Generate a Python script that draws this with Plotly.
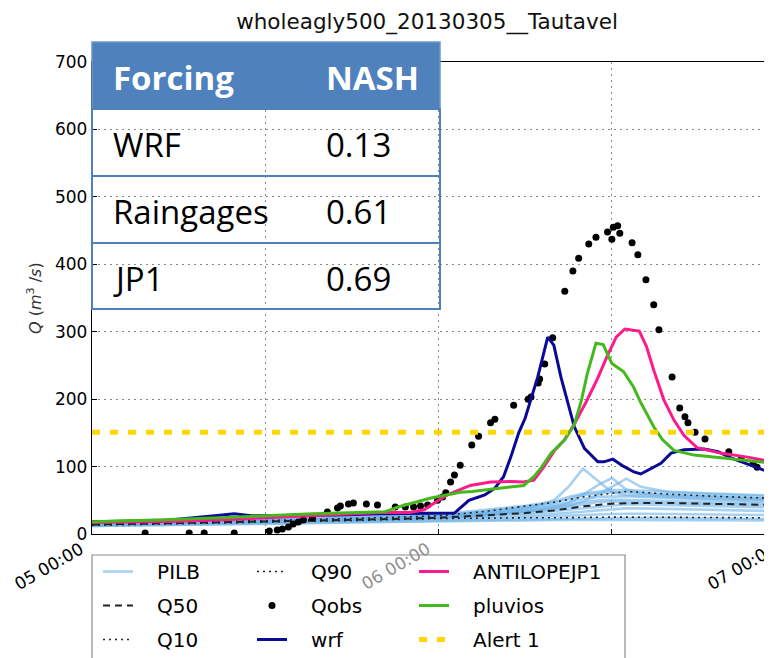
import plotly.graph_objects as go
import pandas as pd

TITLE = "wholeagly500_20130305__Tautavel"
BASE = pd.Timestamp("2013-03-05 00:00")

# ---------------- data (hours since 05 00:00, discharge m3/s) ----------------
qobs_h = [3.68, 6.73, 7.77, 9.85, 12.28, 12.83, 13.18, 13.6, 13.94, 14.29, 14.64, 15.26,
          16.3, 17.0, 17.2, 17.76, 18.1, 19.0, 19.77, 21.0, 21.7, 22.27, 22.75, 23.24,
          23.93, 24.28, 24.5, 24.83, 25.1, 25.5, 26.3, 26.77, 27.6, 27.9, 29.2, 30.2,
          30.4, 30.9, 31.0, 31.35, 31.9, 32.74, 33.3, 33.7, 34.4, 34.9, 35.7, 36.0,
          36.1, 36.4, 36.55, 37.4, 37.8, 38.36, 38.9, 39.26, 40.17, 40.7, 41.06, 41.27,
          41.76, 42.45, 44.1, 44.95, 45.78, 46.06, 47.03]
qobs_v = [1.5, 1.5, 1.5, 1.5, 4.4, 5.9, 7.4, 10.4, 14.8, 17.8, 20.8, 23.7,
          32.6, 38.6, 41.5, 44.5, 46, 44.5, 43, 40, 40, 40, 41.5, 43,
          50, 55, 61, 77, 87.5, 102, 132, 145, 165, 170, 191, 200,
          203, 224, 230, 252, 291, 360, 390, 409, 430, 440, 448, 437,
          455, 457, 446, 432, 414, 377, 340, 303, 233, 187, 174, 165,
          151, 141, 122, 111, 104, 99, 92]

wrf_h = [0, 5, 8.5, 9.85, 11, 14, 17, 20, 24, 25.1, 26.1, 27.2, 27.9, 28.5, 29, 29.55,
         30.0, 30.87, 31.56, 31.98, 32.47, 32.95, 33.4, 34.1, 35.03, 35.45, 36.07, 36.76,
         37.53, 38.0, 39.4, 40.1, 41.0, 42.4, 43.35, 44.25, 45.6, 47.1]
wrf_v = [18, 20, 27, 30, 27, 27, 28, 30, 31, 31, 50, 58, 68, 85, 114, 150,
         172, 233, 292, 280, 233, 194, 159, 127, 107, 107, 111, 101,
         92, 89, 105, 120, 125, 126, 122, 113, 102, 90]

jp1_h = [0, 6, 10, 14, 18, 20, 22, 23, 24.0, 24.6, 26.2, 27.6, 29.0, 29.9, 30.6, 31.3,
         32.0, 32.7, 33.4, 34.2, 35.0, 35.7, 36.3, 36.9, 37.9, 38.4, 38.9, 39.6, 40.3,
         41.0, 41.9, 43.5, 45.4, 47.1]
jp1_v = [17, 19, 22, 26, 30, 32, 32, 36, 50, 58, 72, 77, 78, 77, 80, 100,
         123, 139, 163, 195, 230, 265, 292, 304, 301, 278, 243, 199, 169,
         146, 128, 120, 114, 107]

pluv_h = [0, 5, 9.8, 15.3, 20.3, 21.2, 23.4, 25.5, 26.3, 28.1, 29.9, 30.6, 31.1, 31.8,
          32.7, 33.4, 33.9, 34.3, 34.9, 35.4, 36.0, 36.8, 37.5, 38.0, 38.9, 39.5, 40.3,
          41.7, 44.0, 47.1]
pluv_v = [18, 21, 25, 30, 33, 40, 53, 62, 63, 68, 72, 85, 98, 120,
          139, 162, 199, 238, 283, 281, 253, 241, 218, 195, 159, 140, 124,
          117, 112, 105]

q_h = [0, 6, 12, 18, 24, 27, 30, 32, 34, 36, 37, 38, 40, 43, 47.1]
q10_v = [13, 15, 18, 20, 23, 24, 24, 24, 25, 25, 25, 25, 25, 24, 24]
q50_v = [14, 16, 18, 21, 24, 27, 31, 35, 41, 45, 46, 46, 46, 45, 43]
q90_v = [15, 17, 20, 23, 27, 33, 41, 47, 55, 60, 63, 62, 59, 56, 53]

pilb_h = [0, 6, 12, 18, 24, 27, 30, 32, 33, 34, 35, 36, 37, 38, 40, 43, 47.1]
pilb_members = [
    [12, 13, 15, 17, 19, 20, 21, 21, 21, 21, 21, 21, 21, 21, 21, 21, 20],
    [12, 14, 16, 18, 20, 21, 22, 23, 23, 23, 23, 24, 24, 24, 24, 23, 22],
    [13, 15, 17, 19, 22, 23, 25, 26, 27, 28, 29, 30, 30, 30, 30, 29, 28],
    [13, 15, 18, 20, 23, 25, 28, 30, 31, 33, 35, 37, 38, 38, 37, 36, 34],
    [14, 16, 19, 21, 24, 27, 31, 34, 36, 38, 41, 43, 44, 44, 43, 41, 39],
    [14, 16, 19, 22, 25, 28, 33, 37, 40, 44, 47, 48, 48, 47, 46, 44, 42],
    [14, 17, 20, 23, 26, 30, 36, 40, 43, 47, 50, 51, 51, 50, 49, 47, 45],
    [15, 17, 20, 23, 27, 32, 38, 43, 47, 52, 55, 56, 56, 55, 53, 51, 48],
    [15, 18, 21, 24, 28, 33, 40, 46, 52, 58, 60, 62, 62, 60, 58, 55, 52],
    [15, 18, 21, 25, 29, 35, 42, 48, 55, 60, 63, 65, 65, 64, 62, 60, 57],
    [14, 16, 19, 22, 26, 30, 37, 50, 70, 97, 80, 62, 58, 57, 55, 52, 50],
    [14, 16, 19, 22, 26, 29, 34, 40, 46, 58, 72, 83, 66, 60, 57, 55, 52],
    [13, 16, 18, 21, 25, 28, 33, 38, 42, 48, 58, 70, 82, 70, 62, 59, 56],
]

alert1 = 151
x_end_h = 47.09

forcings = ["WRF", "Raingages", "JP1"]
nash = ["0.13", "0.61", "0.69"]
table_header = ["Forcing", "NASH"]

tick_hours = [0, 12, 24, 36]
label_hours = [0, 24, 48]
label_text = ["05 00:00", "06 00:00", "07 00:00"]
label_color = ["black", "#8f8f8f", "black"]   # middle one sits behind the legend


def T(hours):
    out = []
    for h in hours:
        ts = BASE + pd.Timedelta(seconds=round(h * 3600))
        out.append(ts.strftime("%Y-%m-%d %H:%M:%S"))
    return out


NB = "\u00a0\u00a0\u00a0"
fig = go.Figure()

# PILB ensemble members
for i, m in enumerate(pilb_members):
    fig.add_trace(go.Scatter(x=T(pilb_h), y=m, mode="lines", name=NB + "PILB",
                             line=dict(color="rgba(110,178,232,0.6)", width=2.6),
                             showlegend=(i == 0), legend="legend", legendrank=1,
                             legendgroup="g1", hoverinfo="skip"))

fig.add_trace(go.Scatter(x=T(q_h), y=q50_v, mode="lines", name=NB + "Q50",
                         line=dict(color="#222", width=2, dash="7px,5px"),
                         legend="legend", legendrank=2, legendgroup="g2"))
fig.add_trace(go.Scatter(x=T(q_h), y=q10_v, mode="lines", name=NB + "Q10",
                         line=dict(color="#222", width=1.6, dash="2px,4px"),
                         legend="legend", legendrank=3, legendgroup="g3"))
fig.add_trace(go.Scatter(x=T(q_h), y=q90_v, mode="lines", name=NB + "Q90",
                         line=dict(color="#222", width=1.6, dash="2px,4px"),
                         legend="legend2", legendrank=1, legendgroup="g4"))
fig.add_trace(go.Scatter(x=T(qobs_h), y=qobs_v, mode="markers", name=NB + "Qobs",
                         marker=dict(color="black", size=7),
                         legend="legend2", legendrank=2, legendgroup="g5"))
fig.add_trace(go.Scatter(x=T(wrf_h), y=wrf_v, mode="lines", name=NB + "wrf",
                         line=dict(color="#0a0a96", width=3),
                         legend="legend2", legendrank=3, legendgroup="g6"))
fig.add_trace(go.Scatter(x=T(jp1_h), y=jp1_v, mode="lines", name=NB + "ANTILOPEJP1",
                         line=dict(color="#ff1a8c", width=3),
                         legend="legend3", legendrank=1, legendgroup="g7"))
fig.add_trace(go.Scatter(x=T(pluv_h), y=pluv_v, mode="lines", name=NB + "pluvios",
                         line=dict(color="#44b81c", width=3),
                         legend="legend3", legendrank=2, legendgroup="g8"))
fig.add_trace(go.Scatter(x=T([0, x_end_h]), y=[alert1, alert1], mode="lines",
                         name=NB + "Alert 1",
                         line=dict(color="#ffd700", width=5, dash="8px,10px"),
                         legend="legend3", legendrank=3, legendgroup="g9"))

# ---------------- layout ----------------
OFF = 8                      # page body margin of the browser
W, H = 772 - OFF, 658 - OFF
# plot area in reference-picture pixels
PL, PR, PT, PB = 92, 772, 62, 534
L, TOP = PL - OFF, PT - OFF
B = H - (PB - OFF)
R = W - (PR - OFF)
pw, ph = PR - PL, PB - PT


def px(xp):
    """reference pixel x -> paper x"""
    return (xp - PL) / pw


def py(yp):
    """reference pixel y -> paper y"""
    return (PB - yp) / ph


def cx(xp):
    return (xp - OFF) / W


def cy(yp):
    return 1 - (yp - OFF) / H


legend_font = dict(family="DejaVu Sans", size=20, color="black")
common_leg = dict(font=legend_font, bgcolor="rgba(0,0,0,0)", borderwidth=0,
                  xref="container", yref="container", xanchor="left", yanchor="top",
                  traceorder="grouped", tracegroupgap=5, itemwidth=30)
leg_top = cy(552)

fig.update_layout(
    width=W, height=H,
    margin=dict(l=L, r=R, t=TOP, b=B, autoexpand=False),
    paper_bgcolor="white", plot_bgcolor="white",
    font=dict(family="DejaVu Sans", color="black"),
    title=dict(text=TITLE, x=cx(427), xref="container", xanchor="center",
               y=cy(21), yref="container", yanchor="middle",
               font=dict(family="DejaVu Sans", size=21.5, color="#111")),
    legend=dict(x=cx(98), y=leg_top, **common_leg),
    legend2=dict(x=cx(252), y=leg_top, **common_leg),
    legend3=dict(x=cx(414), y=leg_top, **common_leg),
    showlegend=True,
)

fig.update_xaxes(
    type="date", range=T([0, x_end_h]),
    tickvals=T(tick_hours), showticklabels=False,
    showgrid=True, gridcolor="#8a8a8a", gridwidth=1, griddash="2px,4px",
    showline=True, linecolor="black", linewidth=1.3, mirror=True,
    ticks="inside", ticklen=5, tickcolor="black", zeroline=False,
)
fig.update_yaxes(
    range=[0, 700], dtick=100, tick0=0,
    tickfont=dict(family="DejaVu Sans", size=17, color="black"),
    showgrid=True, gridcolor="#8a8a8a", gridwidth=1, griddash="2px,4px",
    showline=True, linecolor="black", linewidth=1.3, mirror=False,
    ticks="inside", ticklen=5, tickcolor="black", zeroline=False,
)

shapes = []
annotations = []

# y-axis title
annotations.append(dict(text="<i>Q</i> (<i>m</i><sup>3</sup> /<i>s</i>)",
                        x=px(34), y=py(298), xref="paper", yref="paper",
                        xanchor="center", yanchor="middle", textangle=-90,
                        showarrow=False,
                        font=dict(family="DejaVu Sans", size=16, color="#333")))

# x tick labels (rotated, ending at the tick)
x_per_h = pw / x_end_h
for hh, lab, col in zip(label_hours, label_text, label_color):
    xt = PL + hh * x_per_h
    annotations.append(dict(text=lab, x=px(xt - 2), y=py(536),
                            xref="paper", yref="paper", xanchor="right", yanchor="top",
                            textangle=-30, showarrow=False,
                            font=dict(family="DejaVu Sans", size=17, color=col)))

# legend frame (semi-transparent white like matplotlib)
shapes.append(dict(type="rect", xref="paper", yref="paper",
                   x0=px(92), x1=px(625), y0=py(680), y1=py(555),
                   fillcolor="rgba(255,255,255,0.6)",
                   line=dict(color="#8c8c8c", width=1.2), layer="above"))

# table overlay
blue = "#4f81bd"
tx0, tx1 = px(92), px(440)
row_edges = [42, 109, 176, 243, 309]
shapes.append(dict(type="rect", xref="paper", yref="paper", x0=tx0, x1=tx1,
                   y0=py(row_edges[1]), y1=py(row_edges[0]),
                   fillcolor=blue, line=dict(color="#6f97c9", width=1.5), layer="above"))
for i in range(1, 4):
    shapes.append(dict(type="rect", xref="paper", yref="paper", x0=tx0, x1=tx1,
                       y0=py(row_edges[i + 1]), y1=py(row_edges[i]),
                       fillcolor="rgba(0,0,0,0)", line=dict(color=blue, width=2),
                       layer="above"))

col_x = [px(111), px(324)]
for j, htxt in enumerate(table_header):
    annotations.append(dict(text="<b>%s</b>" % htxt, x=col_x[j],
                            y=py((row_edges[0] + row_edges[1]) / 2 + 2),
                            xref="paper", yref="paper", xanchor="left", yanchor="middle",
                            showarrow=False,
                            font=dict(family="Open Sans", size=33, color="white")))
for i, (f, n) in enumerate(zip(forcings, nash)):
    yc = py((row_edges[i + 1] + row_edges[i + 2]) / 2 + 2)
    annotations.append(dict(text=f, x=col_x[0], y=yc, xref="paper", yref="paper",
                            xanchor="left", yanchor="middle", showarrow=False,
                            font=dict(family="Open Sans", size=33, color="black")))
    annotations.append(dict(text=n, x=col_x[1], y=yc, xref="paper", yref="paper",
                            xanchor="left", yanchor="middle", showarrow=False,
                            font=dict(family="Open Sans", size=33, color="black")))

fig.update_layout(shapes=shapes, annotations=annotations)

fig.write_html("out.html")
